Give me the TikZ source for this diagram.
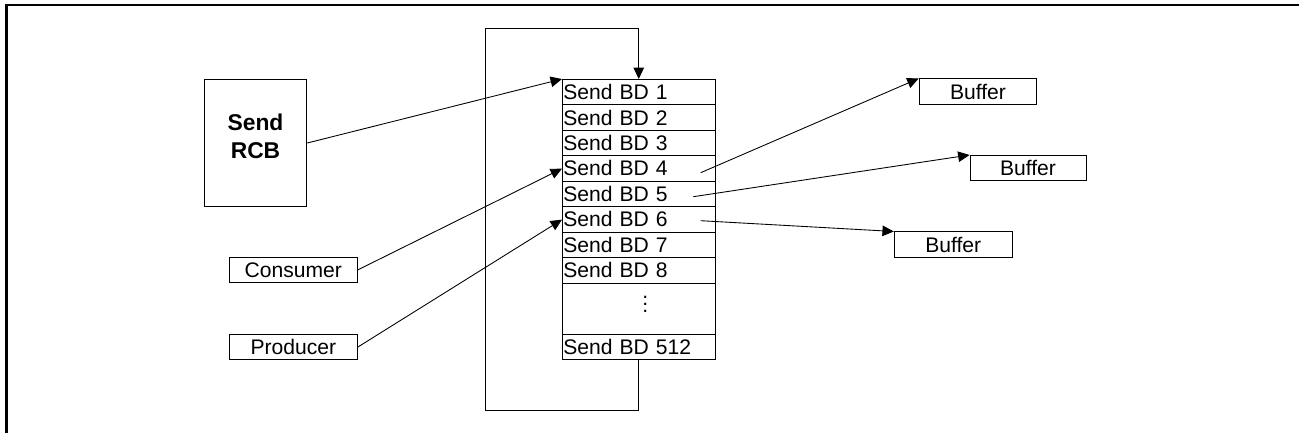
\documentclass[tikz,border=0pt]{standalone}
\usepackage{fontspec}
\setmainfont{Liberation Sans}
\usepackage{tikz}
\usetikzlibrary{shapes.multipart,positioning,arrows.meta}
\newcommand{\rowstrut}{\rule[-2.8pt]{0pt}{13.95pt}}

\begin{document}
\begin{tikzpicture}[
  x=0.02cm, y=-0.02cm,
  line width=0.55pt,
  font=\fontsize{12}{14}\selectfont,
  conn/.style={-{Triangle[length=6.5pt,width=6pt]}, line width=0.5pt},
  plainbox/.style={draw, minimum width=#1, minimum height=14.5pt, inner sep=0pt},
  bdtable/.style={
    draw,
    rectangle split,
    rectangle split parts=#1,
    rectangle split part align=left,
    text width=85.8pt,
    inner xsep=0.5pt,
    inner ysep=0pt,
    anchor=north west
    }
]
\useasboundingbox (0,0) rectangle (1299,433);
\draw[line width=1.15pt] (6.5,433) |- (1299,5);

\node[draw, minimum width=58.4pt, minimum height=72.6pt, text depth=8pt, align=center,
  font=\fontsize{13}{15.9}\selectfont\bfseries] (rcb) at (255.5,143) {Send\\RCB};

\node[plainbox=72.6pt] (consumer) at (293.3,270) {Consumer};
\node[plainbox=72.6pt, below=28.9pt of consumer] (producer) {Producer};

\node[bdtable=10] (tbl) at (562,79)
  {
  					\rowstrut Send BD 1
  \nodepart{two}	\rowstrut Send BD 2
  \nodepart{three}	\rowstrut Send BD 3
  \nodepart{four}	\rowstrut Send BD 4
  \nodepart{five}	\rowstrut Send BD 5
  \nodepart{six}	\rowstrut Send BD 6
  \nodepart{seven}	\rowstrut Send BD 7
  \nodepart{eight}	\rowstrut Send BD 8
  \nodepart{nine}	\rule[-12.4pt]{0pt}{28.5pt}\hspace*{45pt}$\vdots$
  \nodepart{ten}	\rowstrut Send BD 512
  };

\node[plainbox=67pt] (buf1) at (978,91.7) {Buffer};
\node[plainbox=66pt] (buf2) at (1028,168.2) {Buffer};
\node[plainbox=67pt] (buf3) at (953.2,244.7) {Buffer};

% ring: last BD wraps round to the first
\coordinate (ringbl) at (485,410);
\coordinate (ringtl) at (485,28);
\draw[conn] (tbl.south) |- (ringbl) -- (ringtl) -| (tbl.north);

\draw[conn] (rcb.east) -- (tbl.north west);
\draw[conn] (consumer.east) -- (tbl.four west);
\draw[conn] (producer.east) -- (tbl.six west);

\coordinate (out4) at (700.7,172.7);
\coordinate (out5) at (693.3,196.7);
\coordinate (out6) at (700.7,220.7);
\draw[conn] (out4) -- (buf1.north west);
\draw[conn] (out5) -- (buf2.north west);
\draw[conn] (out6) -- (buf3.north west);

\end{tikzpicture}
\end{document}
